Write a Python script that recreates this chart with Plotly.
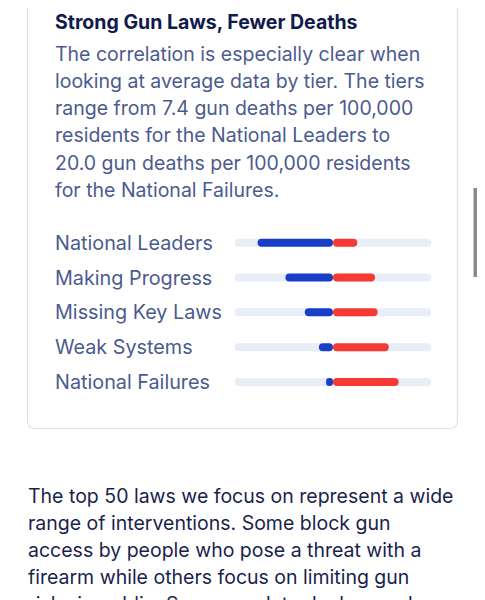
import plotly.graph_objects as go

# The page body has an 8px margin, so the figure starts at page (8, 8)
# and the visible width ends at page x = 477.
OFF = 8
W, H = 485 - 2 * OFF, 600 - OFF

title = "Strong Gun Laws, Fewer Deaths"
body_lines = [
    "The correlation is especially clear when",
    "looking at average data by tier. The tiers",
    "range from 7.4 gun deaths per 100,000",
    "residents for the National Leaders to",
    "20.0 gun deaths per 100,000 residents",
    "for the National Failures.",
]
tiers = ["National Leaders", "Making Progress", "Missing Key Laws", "Weak Systems", "National Failures"]
law_strength = [23.0, 14.5, 8.6, 4.3, 2.1]
gun_deaths = [7.4, 12.8, 13.6, 17.0, 20.0]
track_max = 30
after_lines = [
    "The top 50 laws we focus on represent a wide",
    "range of interventions. Some block gun",
    "access by people who pose a threat with a",
    "firearm while others focus on limiting gun",
    "risks in public. Some regulate dealers and",
]

BLUE = "#1a3ec8"
RED = "#f43a32"
TRACK = "#e9edf8"
TITLE_C = "#101a4c"
BODY_C = "#4b5b8e"
AFTER_C = "#1a1f4d"
FONT = "Inter, Noto Sans, sans-serif"
FS = 19.5


def px(x):
    return (x - OFF) / W


def py(y):
    return 1 - (y - OFF) / H


ys = list(range(len(tiers)))
bw = 0.23

fig = go.Figure()
# tracks (two halves, rounded at outer ends)
fig.add_trace(go.Bar(y=ys, x=[-track_max] * len(ys), base=0, orientation="h",
                     marker=dict(color=TRACK, line=dict(width=0)), width=bw, hoverinfo="skip"))
fig.add_trace(go.Bar(y=ys, x=[track_max] * len(ys), base=0, orientation="h",
                     marker=dict(color=TRACK, line=dict(width=0)), width=bw, hoverinfo="skip"))
fig.add_trace(go.Bar(y=ys, x=[-v for v in law_strength], base=0, orientation="h",
                     marker=dict(color=BLUE, line=dict(width=0)), width=bw, name="Law strength"))
fig.add_trace(go.Bar(y=ys, x=gun_deaths, base=0, orientation="h",
                     marker=dict(color=RED, line=dict(width=0)), width=bw, name="Gun deaths"))

center = 333
half = 98.4
fig.update_layout(
    width=W, height=H, margin=dict(l=0, r=0, t=0, b=0),
    paper_bgcolor="white", plot_bgcolor="white",
    barmode="overlay", barcornerradius="50%", showlegend=False,
    xaxis=dict(range=[-track_max, track_max], domain=[px(center - half), px(center + half)],
               visible=False, fixedrange=True),
    yaxis=dict(range=[4.5, -0.5], domain=[py(399.4), py(225.3)], visible=False, fixedrange=True),
    font=dict(family=FONT),
)

anns = []
anns.append(dict(text="<b>" + title + "</b>", x=px(53), y=py(22), xref="paper", yref="paper",
                 xanchor="left", yanchor="middle", showarrow=False,
                 font=dict(size=FS, color=TITLE_C, family=FONT)))
body_y = [54.5, 81.5, 108.5, 135.5, 162.5, 189.5]
for t, yy in zip(body_lines, body_y):
    anns.append(dict(text=t, x=px(53), y=py(yy), xref="paper", yref="paper",
                     xanchor="left", yanchor="middle", showarrow=False,
                     font=dict(size=FS, color=BODY_C, family=FONT)))
for i, t in enumerate(tiers):
    anns.append(dict(text=t, x=px(53), y=i, xref="paper", yref="y",
                     xanchor="left", yanchor="middle", showarrow=False,
                     font=dict(size=19.8, color=BODY_C, family=FONT)))
after_y = [496, 523, 550, 577, 604]
for t, yy in zip(after_lines, after_y):
    anns.append(dict(text=t, x=px(26), y=py(yy), xref="paper", yref="paper",
                     xanchor="left", yanchor="middle", showarrow=False,
                     font=dict(size=FS, color=AFTER_C, family=FONT)))
fig.update_layout(annotations=anns)

# card outline with rounded bottom corners
x0, x1, y0, y1, r = 27.5, 457.5, -20, 428.5, 8
path = (f"M {px(x0)} {py(y0)} L {px(x0)} {py(y1 - r)} Q {px(x0)} {py(y1)} {px(x0 + r)} {py(y1)} "
        f"L {px(x1 - r)} {py(y1)} Q {px(x1)} {py(y1)} {px(x1)} {py(y1 - r)} L {px(x1)} {py(y0)}")
shapes = [
    dict(type="path", path=path, xref="paper", yref="paper", line=dict(color="#e2e2e6", width=1.2)),
    dict(type="rect", xref="paper", yref="paper", x0=px(473.5), x1=px(477), y0=py(277), y1=py(188),
         fillcolor="#8a8a8a", line=dict(width=0)),
]
fig.update_layout(shapes=shapes)

fig.write_html("out.html")
